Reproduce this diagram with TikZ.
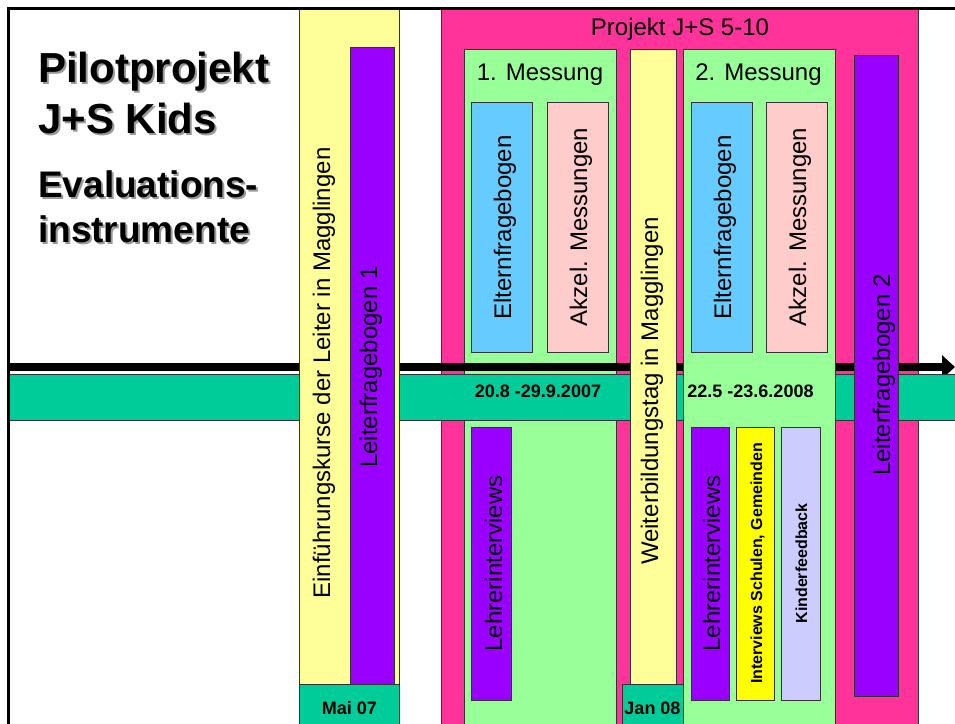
\documentclass[tikz,border=0pt]{standalone}
\usepackage{fontspec}
\setmainfont{Liberation Sans}
\usetikzlibrary{arrows.meta}
\definecolor{pinkP}{RGB}{255,51,153}
\definecolor{greenM}{RGB}{153,255,153}
\definecolor{yellowL}{RGB}{255,255,153}
\definecolor{purpleB}{RGB}{153,0,255}
\definecolor{tealB}{RGB}{0,204,153}
\definecolor{blueE}{RGB}{102,204,255}
\definecolor{pinkA}{RGB}{255,204,204}
\definecolor{yellowS}{RGB}{255,255,0}
\definecolor{lavK}{RGB}{204,204,255}
\definecolor{edge}{RGB}{51,51,51}
\newcommand{\shadowtext}[1]{\rlap{\kern2pt\lower2pt\hbox{\color{black!40}#1}}#1}
\begin{document}
\begin{tikzpicture}[x=1pt,y=-1pt,
  box/.style={draw=edge,line width=0.9pt},
  vlab/.style={rotate=90,anchor=base,inner sep=0pt,font=\fontsize{24}{28}\selectfont},
  vlabb/.style={rotate=90,anchor=base,inner sep=0pt,font=\fontsize{16}{19}\selectfont\bfseries},
  hlab/.style={anchor=base,inner sep=0pt,font=\fontsize{24}{28}\selectfont},
  datelab/.style={anchor=base,inner sep=0pt,font=\fontsize{18}{21}\selectfont\bfseries},
  titleA/.style={anchor=base west,inner sep=0pt,font=\fontsize{42}{50}\selectfont\bfseries},
  titleB/.style={anchor=base west,inner sep=0pt,font=\fontsize{37}{44}\selectfont\bfseries}]
\useasboundingbox (0,0) rectangle (955,723);
\fill[white] (0,0) rectangle (955,723);
% title with shadow
\node[titleA] (t1) at (38,82) {\shadowtext{Pilotprojekt}};
\node[titleA] (t2) at (38,133) {\shadowtext{J+S Kids}};
\node[titleB] (t3) at (38,197) {\shadowtext{Evaluations-}};
\node[titleB] (t4) at (38,242) {\shadowtext{instrumente}};
% project box
\draw[box,fill=pinkP] (441,8) rectangle (918,730);
\node[hlab] (proj) at (680,35) {Projekt J+S 5-10};
% 1. Messung
\draw[box,fill=greenM] (464,49) rectangle (616,730);
\node[hlab] (m1) at (540,80) {1. Messung};
\draw[box,fill=blueE] (471,102) rectangle (532,352);
\draw[box,fill=pinkA] (547,102) rectangle (608,352);
\node[vlab] (e1) at (511,227.5) {Elternfragebogen};
\node[vlab] (a1) at (587,227) {Akzel. Messungen};
% arrow
\coordinate (aS) at (8,367);
\coordinate (aE) at (955,367);
\draw[line width=8pt,-{Triangle[length=13pt,width=23pt]}] (aS) -- (aE);
% band
\draw[box,fill=tealB] (8,374) rectangle (962,420);
\node[datelab] (d1) at (538,397) {20.8 -29.9.2007};
% lower boxes 1
\draw[box,fill=purpleB] (471,427) rectangle (511,700);
\node[vlab] (l1) at (502,563.5) {Lehrerinterviews};
% 2. Messung
\draw[box,fill=greenM] (683,49) rectangle (835,730);
\node[hlab] (m2) at (758.5,80) {2. Messung};
\draw[box,fill=blueE] (691,102) rectangle (752,352);
\draw[box,fill=pinkA] (766,102) rectangle (827,352);
\node[vlab] (e2) at (731,227.5) {Elternfragebogen};
\node[vlab] (a2) at (806,227) {Akzel. Messungen};
\node[datelab] (d2) at (750.5,397) {22.5 -23.6.2008};
\draw[box,fill=purpleB] (691,427) rectangle (729,700);
\draw[box,fill=yellowS] (736,427) rectangle (774,700);
\draw[box,fill=lavK] (781,427) rectangle (820,700);
\node[vlab] (l2) at (720,563.5) {Lehrerinterviews};
\node[vlabb] (is) at (762,563.5) {Interviews Schulen, Gemeinden};
\node[vlabb] (kf) at (807,563.5) {Kinderfeedback};
% Einfuehrungskurse column
\draw[box,fill=yellowL] (299,8) rectangle (399,730);
\node[vlab] (ek) at (330,373) {Einführungskurse der Leiter in Magglingen};
\draw[box,fill=purpleB] (350,47) rectangle (394,687);
\node[vlab] (lf1) at (377,367) {Leiterfragebogen 1};
\draw[box,fill=tealB] (299,684) rectangle (399,730);
\node[datelab] (mai) at (349.5,714) {Mai 07};
% Weiterbildungstag column
\draw[box,fill=yellowL] (630,49) rectangle (676,730);
\node[vlab] (wb) at (658,391) {Weiterbildungstag in Magglingen};
\draw[box,fill=tealB] (622,684) rectangle (683,730);
\node[datelab] (jan) at (652.5,714) {Jan 08};
% Leiterfragebogen 2
\draw[box,fill=purpleB] (854,55) rectangle (898,696);
\node[vlab] (lf2) at (890,375) {Leiterfragebogen 2};
% frame
\draw[line width=3pt] (8,730) -- (8,8) -- (960,8);
\end{tikzpicture}
\end{document}
